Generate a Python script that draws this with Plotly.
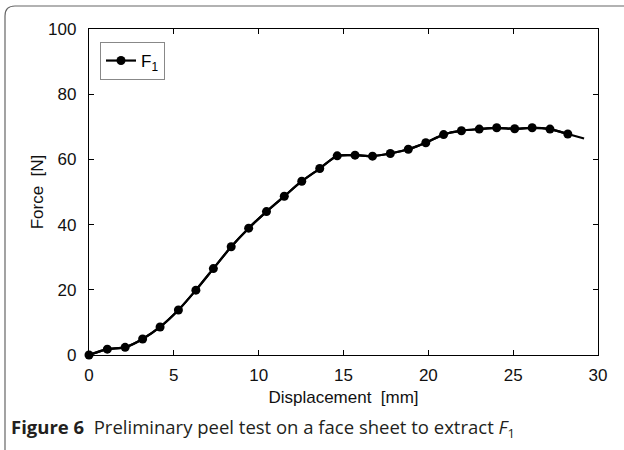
import plotly.graph_objects as go

# Data
disp = [0, 1.08, 2.13, 3.16, 4.19, 5.27, 6.30, 7.33, 8.38, 9.41, 10.46, 11.51,
        12.54, 13.60, 14.63, 15.68, 16.71, 17.76, 18.82, 19.85, 20.90, 21.95,
        23.0, 24.03, 25.09, 26.12, 27.17, 28.22]
force = [0, 1.8, 2.35, 4.9, 8.6, 13.8, 19.9, 26.5, 33.2, 38.9, 44.0, 48.7,
         53.3, 57.2, 61.1, 61.3, 61.0, 61.8, 63.1, 65.1, 67.6, 68.8,
         69.3, 69.7, 69.4, 69.7, 69.3, 67.8]
end_disp = [29.18]
end_force = [66.4]

x_ticks = [0, 5, 10, 15, 20, 25, 30]
y_ticks = [0, 20, 40, 60, 80, 100]

W, H = 624, 450
L, R, T, B = 89, 26, 29, 95
pw, ph = W - L - R, H - T - B

def px(x):
    return (x - L) / pw

def py(y):
    return (H - B - y) / ph

FONT = "Liberation Sans, Arial, sans-serif"
tick_font = dict(family=FONT, size=17, color="#111")

fig = go.Figure()
fig.add_trace(go.Scatter(
    x=disp + end_disp, y=force + end_force, mode="lines",
    line=dict(color="black", width=2.2, shape="spline", smoothing=0.6),
    showlegend=False, cliponaxis=False, hoverinfo="skip"))
fig.add_trace(go.Scatter(
    x=disp, y=force, mode="lines+markers", name="F<sub>1</sub>",
    line=dict(color="black", width=2.2, shape="spline", smoothing=0.6),
    marker=dict(color="black", size=9, symbol="circle"),
    cliponaxis=False))

axis_common = dict(showline=True, linecolor="black", linewidth=1.3, mirror="ticks",
                   ticks="inside", ticklen=5, tickwidth=1.2, tickcolor="black",
                   showgrid=False, zeroline=False, tickfont=tick_font)

fig.update_layout(
    width=W, height=H,
    margin=dict(l=L, r=R, t=T, b=B),
    paper_bgcolor="white", plot_bgcolor="white",
    xaxis=dict(range=[0, 30], tickvals=x_ticks, ticktext=[str(v) for v in x_ticks],
               ticklabelstandoff=4,
               title=dict(text="Displacement\u00a0\u00a0[mm]", font=tick_font, standoff=7),
               **axis_common),
    yaxis=dict(range=[0, 100], tickvals=y_ticks, ticktext=[str(v) for v in y_ticks],
               ticklabelstandoff=8,
               title=dict(text="Force\u00a0\u00a0[N]", font=tick_font, standoff=0),
               **axis_common),
    legend=dict(x=px(100), y=py(42), xanchor="left", yanchor="top",
                bgcolor="white", bordercolor="#888", borderwidth=1,
                font=dict(family=FONT, size=17, color="black"),
                itemwidth=30, tracegroupgap=0),
    showlegend=True,
)

# caption
fig.add_annotation(
    text="<b>Figure 6</b>\u00a0\u00a0Preliminary peel test on a face sheet to extract <i>F</i><sub>1</sub>",
    xref="paper", yref="paper", x=px(9), y=py(428), xanchor="left", yanchor="middle",
    showarrow=False, font=dict(family="Open Sans, Noto Sans, sans-serif", size=18.5, color="#231f20"))

# rounded card border (top-left corner)
x0, x1 = px(5), px(640)
y0, y1 = py(6), py(470)
rx, ry = 10 / pw, 10 / ph
fig.add_shape(type="path", xref="paper", yref="paper",
              path=f"M {x1},{y0} L {x0+rx},{y0} Q {x0},{y0} {x0},{y0-ry} L {x0},{y1}",
              line=dict(color="#666", width=1.2))

fig.write_html("out.html")
